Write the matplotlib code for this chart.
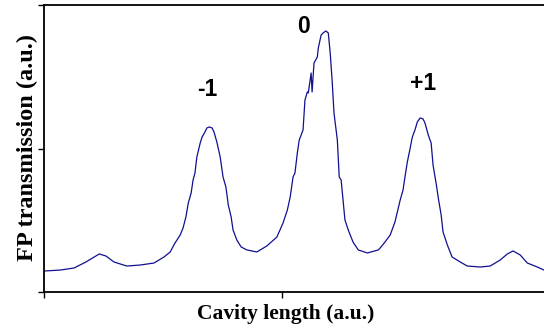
import matplotlib
matplotlib.use("Agg")
import matplotlib.pyplot as plt

# Cavity length (a.u.) and FP transmission (a.u.)
cavity_length = [0.000, 0.034, 0.063, 0.088, 0.116, 0.130, 0.147, 0.174, 0.202, 0.231,
                 0.252, 0.265, 0.275, 0.286, 0.292, 0.298, 0.303, 0.309, 0.313, 0.317,
                 0.321, 0.328, 0.332, 0.338, 0.342, 0.347, 0.353, 0.357, 0.363, 0.370,
                 0.376, 0.382, 0.387, 0.393, 0.397, 0.405, 0.414, 0.426, 0.447, 0.468,
                 0.489, 0.502, 0.511, 0.517, 0.523, 0.527, 0.532, 0.536, 0.544, 0.548,
                 0.553, 0.555, 0.561, 0.563, 0.567, 0.574, 0.576, 0.582, 0.586, 0.592,
                 0.597, 0.601, 0.605, 0.609, 0.616, 0.620, 0.624, 0.628, 0.632, 0.639,
                 0.649, 0.660, 0.679, 0.702, 0.706, 0.716, 0.727, 0.737, 0.742, 0.748,
                 0.754, 0.758, 0.763, 0.769, 0.773, 0.775, 0.779, 0.784, 0.790, 0.796,
                 0.800, 0.807, 0.813, 0.817, 0.824, 0.828, 0.834, 0.838, 0.847, 0.857,
                 0.874, 0.889, 0.916, 0.937, 0.958, 0.973, 0.985, 1.000, 1.015, 1.036,
                 1.050]
transmission = [0.146, 0.153, 0.167, 0.209, 0.265, 0.251, 0.209, 0.181, 0.188, 0.202,
                0.244, 0.279, 0.341, 0.397, 0.446, 0.523, 0.620, 0.690, 0.780, 0.829,
                0.941, 1.038, 1.080, 1.115, 1.143, 1.150, 1.143, 1.115, 1.045, 0.941,
                0.801, 0.732, 0.606, 0.523, 0.432, 0.362, 0.314, 0.293, 0.279, 0.321,
                0.383, 0.481, 0.571, 0.662, 0.801, 0.829, 0.969, 1.059, 1.129, 1.338,
                1.394, 1.387, 1.526, 1.394, 1.596, 1.638, 1.700, 1.791, 1.805, 1.819,
                1.805, 1.666, 1.477, 1.247, 1.059, 0.801, 0.780, 0.641, 0.502, 0.432,
                0.348, 0.293, 0.272, 0.293, 0.307, 0.348, 0.397, 0.488, 0.557, 0.641,
                0.711, 0.801, 0.906, 1.003, 1.073, 1.094, 1.129, 1.185, 1.213, 1.206,
                1.178, 1.094, 1.038, 0.885, 0.746, 0.655, 0.537, 0.418, 0.328, 0.244,
                0.209, 0.181, 0.174, 0.181, 0.223, 0.265, 0.286, 0.258, 0.202, 0.174,
                0.153]

peak_labels = ["-1", "0", "+1"]
peak_label_x = [0.342, 0.544, 0.796]
peak_label_y = [1.408, 1.847, 1.456]

x_ticks = [0.0, 0.5]
y_ticks = [0.0, 1.0, 2.0]

fig = plt.figure(figsize=(5.44, 3.31), dpi=100)
ax = fig.add_axes([44/544, 1-292/331, 1-44/544, 287/331])
ax.plot(cavity_length, transmission, color="#101090", lw=0.9)

ax.set_xlim(0, 1.05)
ax.set_ylim(0, 2.0)
ax.set_xticks(x_ticks)
ax.set_yticks(y_ticks)
ax.set_xticklabels([])
ax.set_yticklabels([])
ax.tick_params(direction="out", length=4, width=1, color="black")
ax.spines["right"].set_visible(False)
for s in ["left", "bottom", "top"]:
    ax.spines[s].set_linewidth(1.3)

for lab, xx, yy in zip(peak_labels, peak_label_x, peak_label_y):
    ax.text(xx, yy, lab, ha="center", va="center", fontsize=16.5, fontweight="bold",
            family="Liberation Sans")

ax.set_xlabel("Cavity length (a.u.)", fontsize=15.5, fontweight="bold",
              family="Liberation Serif", va="center")
ax.set_ylabel("FP transmission (a.u.)", fontsize=17.5, fontweight="bold",
              family="Liberation Serif", va="center")
ax.xaxis.set_label_coords(0.484, -0.077)
ax.yaxis.set_label_coords(-0.034, 0.505)

fig.savefig("out.png", dpi=100)
